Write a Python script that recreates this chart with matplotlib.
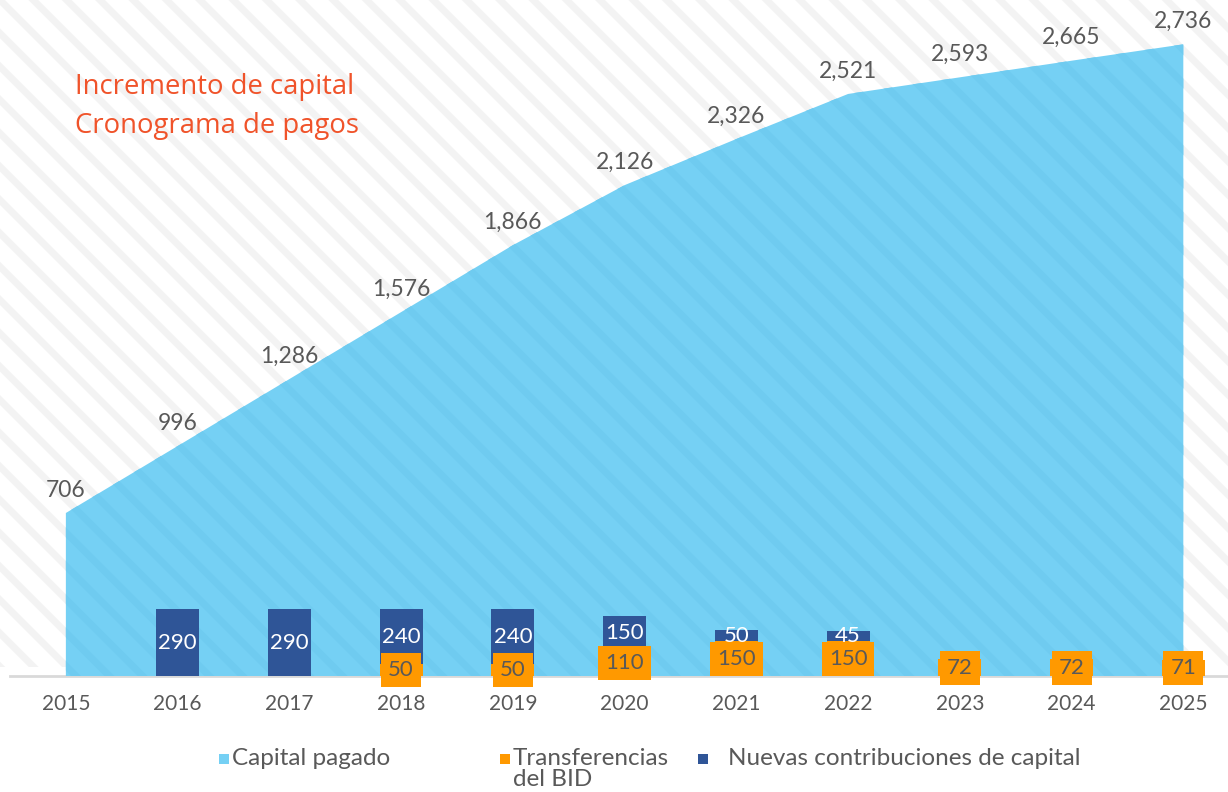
import matplotlib
matplotlib.use("Agg")
import matplotlib.pyplot as plt
from matplotlib.patches import Rectangle
import numpy as np

years = ["2015", "2016", "2017", "2018", "2019", "2020", "2021", "2022", "2023", "2024", "2025"]
capital_pagado = [706, 996, 1286, 1576, 1866, 2126, 2326, 2521, 2593, 2665, 2736]
transferencias = [0, 0, 0, 50, 50, 110, 150, 150, 72, 72, 71]
nuevas = [0, 290, 290, 240, 240, 150, 50, 45, 0, 0, 0]

title_lines = ["Incremento de capital", "Cronograma de pagos"]
legend_labels = ["Capital pagado", "Transferencias\ndel BID", "Nuevas contribuciones de capital"]

C_AREA = "#75D0F4"
C_AREA_H = "#6FCBF0"
C_BLUE = "#2F5597"
C_ORANGE = "#FF9900"
C_TEXT = "#595959"
C_TITLE = "#F0532A"
FONT = "Lato"

plt.rcParams["hatch.linewidth"] = 5.0

W, H = 1228, 792
fig = plt.figure(figsize=(W / 100, H / 100), dpi=100)
fig.patch.set_facecolor("white")

base_y = 676
ax = fig.add_axes([10 / W, (H - base_y) / H, 1 - 10 / W, base_y / H])
ax.set_facecolor("none")

# striped background
bg = Rectangle((0, (H - 667) / H), 1, 667 / H, transform=fig.transFigure,
               facecolor="white", edgecolor="#F3F3F3", hatch="\\", linewidth=0,
               zorder=-5, clip_on=False)
ax.add_patch(bg)

x = np.arange(len(years))
ax.fill_between(x, 0, capital_pagado, facecolor=C_AREA, edgecolor=C_AREA_H,
                hatch="\\", linewidth=0, zorder=1)

bw = 0.385
tr = np.array(transferencias, dtype=float)
nu = np.array(nuevas, dtype=float)
mask_t = tr > 0
mask_n = nu > 0
ax.bar(x[mask_t], tr[mask_t], width=bw, color=C_ORANGE, zorder=2, linewidth=0)
ax.bar(x[mask_n], nu[mask_n], bottom=tr[mask_n], width=bw, color=C_BLUE, zorder=2, linewidth=0)

# labels
for i, v in enumerate(capital_pagado):
    ax.annotate(f"{v:,}", (i, v), xytext=(0, 16.5), textcoords="offset points",
                ha="center", va="center", fontsize=16.5, color=C_TEXT,
                family=FONT, zorder=5, annotation_clip=False)

for i in range(len(years)):
    if nu[i] > 0:
        ax.text(i, tr[i] + nu[i] / 2, f"{int(nu[i])}", ha="center", va="center",
                fontsize=16, color="white", family=FONT, zorder=4)
for i in range(len(years)):
    if tr[i] > 0:
        ax.text(i, tr[i] / 2, f"{int(tr[i])}", ha="center", va="center",
                fontsize=16, color=C_TEXT, family=FONT, zorder=6,
                bbox=dict(boxstyle="square,pad=0.32", facecolor=C_ORANGE,
                          edgecolor="none"))

ax.set_xlim(-0.5, 10.4)
ax.set_ylim(0, base_y / (163 / 706))
ax.set_xticks(x)
ax.set_xticklabels(years, fontsize=15, color=C_TEXT, family=FONT)
ax.tick_params(axis="x", length=0, pad=13)
ax.set_yticks([])
for s in ["top", "left", "right"]:
    ax.spines[s].set_visible(False)
ax.spines["bottom"].set_color("#D9D9D9")
ax.spines["bottom"].set_linewidth(2)
ax.spines["bottom"].set_zorder(0)

# title
for k, line in enumerate(title_lines):
    fig.text(75 / W, 1 - (87 + 39 * k) / H, line, ha="left", va="center",
             fontsize=19.8, color=C_TITLE, family="Open Sans")

# legend (manual)
leg_colors = [C_AREA, C_ORANGE, C_BLUE]
sq_x = [219, 500, 698]
tx_x = [232, 513, 728]
ly = 759
sq = 10
for c, sx, tx, lab in zip(leg_colors, sq_x, tx_x, legend_labels):
    fig.patches.append(Rectangle((sx / W, 1 - (ly + sq / 2) / H), sq / W, sq / H,
                                 transform=fig.transFigure, facecolor=c,
                                 edgecolor="none", figure=fig))
    fig.text(tx / W, 1 - (ly - 11) / H, lab, ha="left", va="top",
             fontsize=17.5, color=C_TEXT, family=FONT, linespacing=1.02)

fig.savefig("out.png", dpi=100)
